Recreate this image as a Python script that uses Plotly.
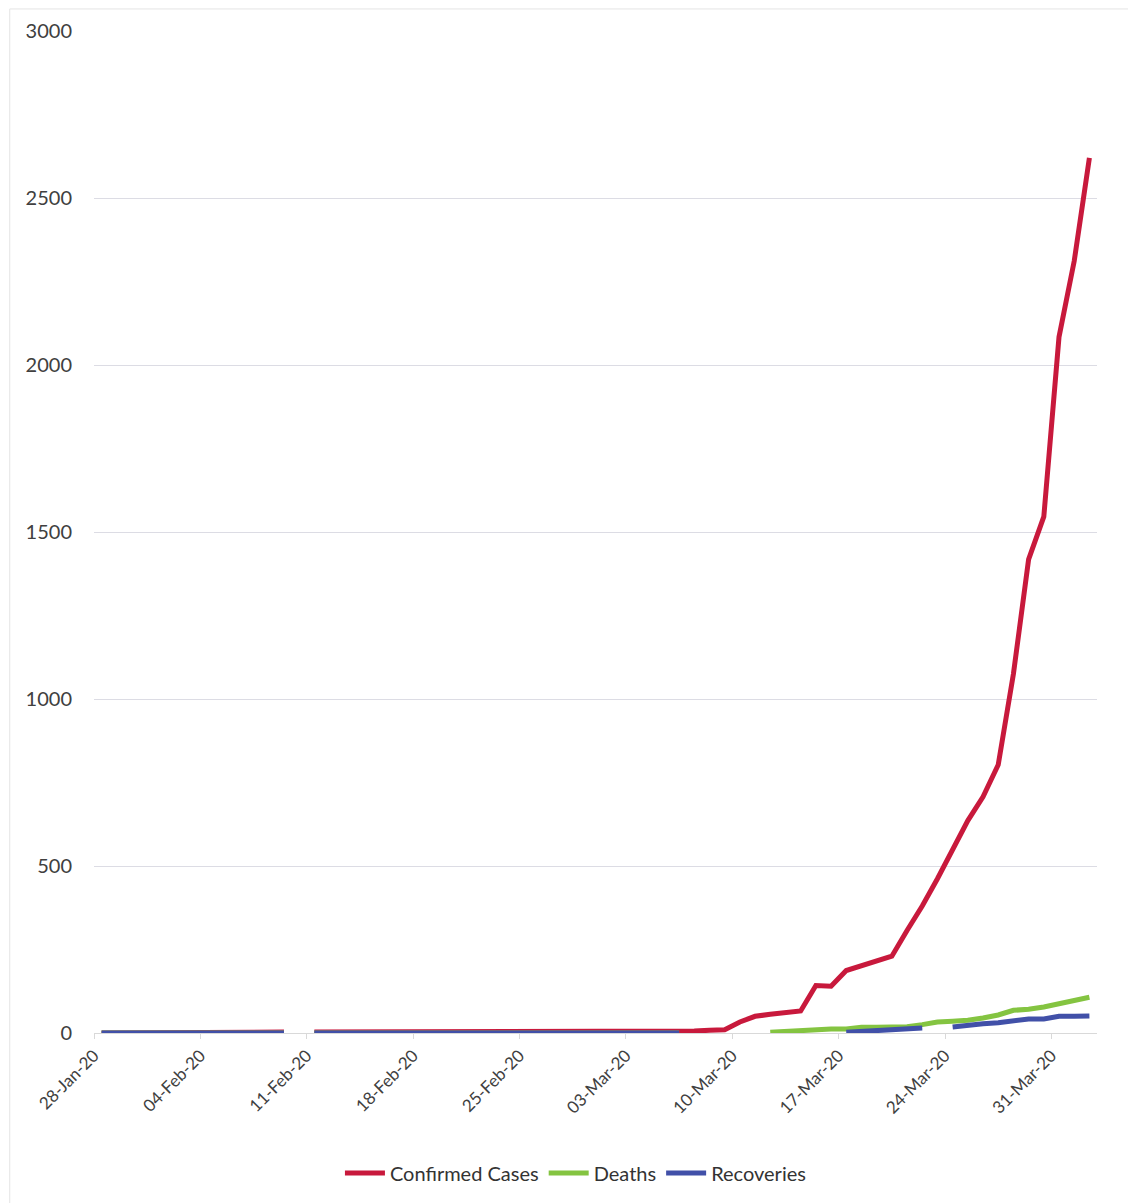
import pandas as pd
import plotly.graph_objects as go

# Categories: one entry per day
dates = pd.date_range("2020-01-28", "2020-04-02", freq="D")

N = None
confirmed = [0, 0, 1, 1, 1, 2, 2, 2, 3, 3, 3, 3, 3, N,
             3, 3, 3, 3, 3, 3, 3, 3, 3, 3, 3, 3, 3, 3, 3, 3, 3, 3, 3, 3, 3, 3, 3, 3,
             5, 6, 8, 10, 33, 50, 56, 61, 66, 142, 140, 187, 202, 217, 230,
             307, 380, 462, 552, 636, 707, 803, 1075, 1418, 1546, 2084, 2311, 2620]

deaths = [0, 0, 0, 0, 0, 0, 0, 0, 0, 0, 0, 0, 0, N,
          0, 0, 0, 0, 0, 0, 0, 0, 0, 0, 0, 0, 0, 0, 0, 0, 0, 0, 0, 0, 0, 0, 0, 0,
          0, N, N, N, N, N, 2, 5, 8, 12, 12, 12, 17, 17, 19,
          19, 25, 33, 35, 38, 45, 54, 68, 71, 78, 88, 96, 107]

recoveries = [0, 0, 0, 0, 0, 0, 0, 0, 0, 0, 0, 0, 0, N,
              0, 0, 0, 0, 0, 0, 0, 0, 0, 0, 0, 0, 0, 0, 0, 0, 0, 0, 0, 0, 0, 0, 0, 0,
              0, N, N, N, N, N, N, N, N, N, N, 2, 4, 8, 8,
              13, 15, N, 18, 24, 28, 31, 35, 42, 42, 50, 50, 51]

series_names = ["Confirmed Cases", "Deaths", "Recoveries"]
series_values = [confirmed, deaths, recoveries]
series_colors = ["#C8193C", "#84C441", "#4150A8"]

y_ticks = [0, 500, 1000, 1500, 2000, 2500, 3000]

FONT = "Lato, 'Open Sans', sans-serif"

fig = go.Figure()
for name, vals, col in zip(series_names, series_values, series_colors):
    fig.add_trace(go.Scatter(
        x=dates, y=vals, name=name, mode="lines",
        line=dict(color=col, width=5),
        xperiod=86400000, xperiodalignment="middle",
        connectgaps=False,
    ))

fig.update_layout(
    width=1120, height=1195,
    margin=dict(l=86, r=31, t=23, b=170),
    paper_bgcolor="white", plot_bgcolor="white",
    font=dict(family=FONT, color="#404040", size=17),
    showlegend=True,
    legend=dict(orientation="h", x=0.48, xanchor="center",
                yref="container", y=0.0251, yanchor="middle",
                font=dict(size=20, color="#333333"), itemwidth=40,
                traceorder="normal"),
    xaxis=dict(
        type="date",
        range=["2020-01-28", "2020-04-03"],
        tick0="2020-01-28", dtick=7 * 86400000,
        tickformat="%d-%b-%y", tickangle=-45,
        showgrid=False, zeroline=False,
        showline=True, linecolor="#D9D9D9", linewidth=1,
        ticks="outside", ticklen=5, tickcolor="#D9D9D9",
        tickfont=dict(size=17, color="#404040"),
        automargin=False,
    ),
    yaxis=dict(
        range=[0, 3000], tickvals=y_ticks,
        showgrid=True, gridcolor="#DCDCE4", gridwidth=1,
        zeroline=False, showline=False, ticks="",
        tickfont=dict(size=20, color="#404040"),
        ticklabelstandoff=21,
        automargin=False,
    ),
    shapes=[dict(type="rect", xref="paper", yref="paper",
                 x0=-0.084, x1=1.033, y0=-0.2, y1=1.022,
                 line=dict(color="#E4E4E4", width=1), layer="below")],
)

fig.write_html("out.html")
